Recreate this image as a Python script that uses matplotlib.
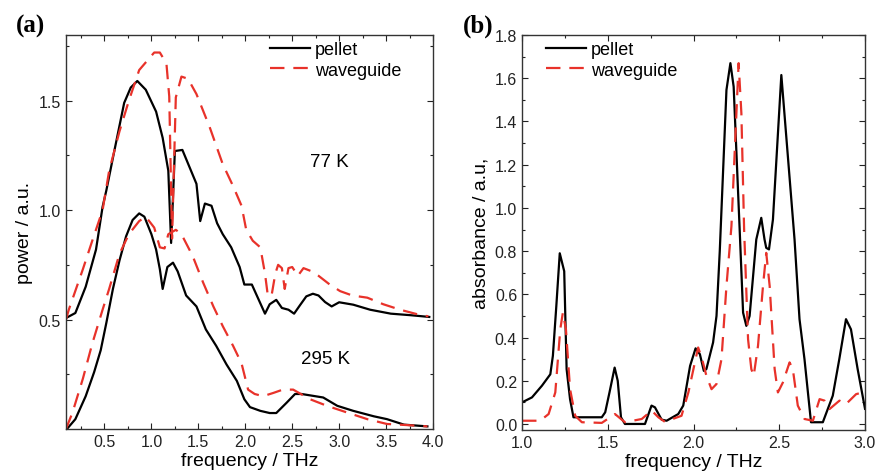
import numpy as np
import matplotlib
matplotlib.use("Agg")
import matplotlib.pyplot as plt
from matplotlib.ticker import MultipleLocator, FixedLocator

plt.rcParams['font.family'] = ['Liberation Sans', 'DejaVu Sans']

# (a) power spectra, 77 K
f77_pellet = [0.09, 0.19, 0.30, 0.41, 0.48, 0.52, 0.60, 0.71, 0.78, 0.85, 0.94, 1.05, 1.12, 1.18,
              1.21, 1.25, 1.33, 1.48, 1.52, 1.57, 1.64, 1.70, 1.76, 1.85, 1.94, 1.99, 2.07, 2.21,
              2.26, 2.33, 2.39, 2.46, 2.52, 2.58, 2.65, 2.72, 2.78, 2.85, 2.92, 3.00, 3.15, 3.33,
              3.55, 3.76, 3.96]
p77_pellet = [0.507, 0.53, 0.65, 0.82, 1.015, 1.09, 1.26, 1.49, 1.56, 1.59, 1.55, 1.45, 1.33, 1.18,
              0.85, 1.27, 1.275, 1.12, 0.95, 1.03, 1.02, 0.94, 0.89, 0.83, 0.74, 0.66, 0.66, 0.527,
              0.57, 0.59, 0.553, 0.545, 0.527, 0.564, 0.606, 0.618, 0.61, 0.58, 0.56, 0.579, 0.568, 0.545,
              0.527, 0.52, 0.512]
f77_wg = [0.09, 0.12, 0.27, 0.37, 0.48, 0.55, 0.66, 0.76, 0.87, 1.03, 1.09, 1.16, 1.19, 1.22,
          1.26, 1.32, 1.39, 1.48, 1.62, 1.76, 1.87, 1.96, 2.01, 2.08, 2.16, 2.21, 2.24, 2.28,
          2.32, 2.35, 2.39, 2.42, 2.46, 2.50, 2.56, 2.62, 2.71, 2.78, 2.90, 3.01, 3.14, 3.30,
          3.47, 3.65, 3.87, 3.95]
p77_wg = [0.50, 0.545, 0.73, 0.86, 1.0, 1.18, 1.36, 1.5, 1.64, 1.72, 1.72, 1.67, 1.52, 0.87,
          1.515, 1.61, 1.60, 1.53, 1.38, 1.21, 1.11, 1.02, 0.91, 0.86, 0.83, 0.71, 0.61, 0.61,
          0.71, 0.75, 0.735, 0.64, 0.735, 0.74, 0.70, 0.735, 0.72, 0.70, 0.66, 0.63, 0.61, 0.60,
          0.57, 0.545, 0.52, 0.515]

# (a) power spectra, 295 K
f295_pellet = [0.10, 0.19, 0.30, 0.39, 0.46, 0.52, 0.59, 0.66, 0.73, 0.80, 0.87, 0.925, 1.0, 1.05,
               1.09, 1.12, 1.17, 1.23, 1.28, 1.37, 1.48, 1.58, 1.69, 1.80, 1.91, 1.99, 2.05, 2.16,
               2.26, 2.33, 2.44, 2.53, 2.60, 2.83, 2.98, 3.15, 3.37, 3.51, 3.69, 3.94]
p295_pellet = [0.0, 0.045, 0.15, 0.26, 0.36, 0.485, 0.64, 0.77, 0.88, 0.955, 0.985, 0.97, 0.89, 0.82,
               0.73, 0.64, 0.74, 0.76, 0.72, 0.61, 0.56, 0.455, 0.38, 0.295, 0.22, 0.136, 0.10, 0.083,
               0.073, 0.073, 0.12, 0.16, 0.16, 0.144, 0.106, 0.083, 0.058, 0.045, 0.02, 0.012]
f295_wg = [0.09, 0.16, 0.27, 0.37, 0.48, 0.55, 0.66, 0.76, 0.87, 0.94, 1.03, 1.09, 1.14, 1.18,
           1.26, 1.32, 1.44, 1.55, 1.66, 1.76, 1.87, 1.96, 2.03, 2.10, 2.19, 2.30, 2.40, 2.51,
           2.69, 2.87, 3.08, 3.30, 3.51, 3.72, 3.94]
p295_wg = [0.0, 0.076, 0.23, 0.39, 0.545, 0.64, 0.80, 0.89, 0.95, 0.97, 0.92, 0.83, 0.825, 0.89,
           0.91, 0.89, 0.79, 0.67, 0.56, 0.47, 0.38, 0.30, 0.18, 0.16, 0.15, 0.165, 0.18, 0.18,
           0.136, 0.106, 0.076, 0.045, 0.023, 0.018, 0.012]

# (b) absorbance
fb_pellet = [1.0, 1.058, 1.116, 1.165, 1.18, 1.20, 1.22, 1.246, 1.26, 1.28, 1.30, 1.465, 1.485, 1.51,
             1.54, 1.558, 1.577, 1.60, 1.717, 1.755, 1.775, 1.814, 1.843, 1.911, 1.94, 1.98, 2.012,
             2.037, 2.06, 2.075, 2.114, 2.134, 2.153, 2.192, 2.215, 2.234, 2.269, 2.289, 2.308,
             2.327, 2.366, 2.395, 2.414, 2.424, 2.44, 2.463, 2.512, 2.589, 2.618, 2.647, 2.685,
             2.754, 2.812, 2.85, 2.889, 2.918, 2.957, 3.0]
ab_pellet = [0.10, 0.123, 0.177, 0.23, 0.316, 0.546, 0.79, 0.707, 0.254, 0.115, 0.031, 0.031, 0.054, 0.146,
             0.261, 0.2, 0.031, 0.0, 0.0, 0.085, 0.077, 0.02, 0.015, 0.046, 0.085, 0.269, 0.35,
             0.323, 0.246, 0.254, 0.377, 0.5, 0.80, 1.546, 1.67, 1.561, 0.9, 0.515, 0.454,
             0.5, 0.854, 0.954, 0.854, 0.815, 0.808, 0.946, 1.615, 0.854, 0.485, 0.3, 0.008,
             0.008, 0.131, 0.3, 0.485, 0.438, 0.254, 0.07]
fb_wg = [1.0, 1.106, 1.155, 1.194, 1.223, 1.238, 1.256, 1.28, 1.31, 1.349, 1.465, 1.542, 1.60, 1.698,
         1.756, 1.795, 1.833, 1.93, 1.97, 2.008, 2.027, 2.05, 2.075, 2.105, 2.134, 2.163, 2.192,
         2.221, 2.25, 2.263, 2.279, 2.295, 2.318, 2.337, 2.351, 2.376, 2.405, 2.424, 2.444, 2.473,
         2.492, 2.521, 2.56, 2.579, 2.608, 2.647, 2.696, 2.735, 2.764, 2.793, 2.851, 2.889, 2.948,
         2.986, 3.0]
ab_wg = [0.015, 0.015, 0.046, 0.146, 0.438, 0.515, 0.438, 0.162, 0.038, 0.008, 0.005, 0.046, 0.008, 0.023,
         0.062, 0.031, 0.01, 0.038, 0.146, 0.285, 0.354, 0.30, 0.223, 0.161, 0.185, 0.3, 0.638,
         0.915, 1.438, 1.67, 1.438, 0.9, 0.392, 0.254, 0.223, 0.362, 0.638, 0.792, 0.638, 0.254,
         0.146, 0.192, 0.285, 0.254, 0.085, 0.023, 0.015, 0.115, 0.108, 0.069, 0.108, 0.092, 0.138,
         0.146, 0.13]

RED = '#e8322a'
dash = (0, (6.5, 4))
fmt = matplotlib.ticker.FormatStrFormatter('%.1f')

fig = plt.figure(figsize=(8.75, 4.77), dpi=100)
ax1 = fig.add_axes([0.0754, 0.0985, 0.4195, 0.826])
ax2 = fig.add_axes([0.5966, 0.0964, 0.392, 0.828])

for ax in (ax1, ax2):
    ax.tick_params(which='both', direction='in', top=True, right=True, labelsize=11.5,
                   colors='#222', length=4, width=0.8)
    ax.tick_params(which='minor', length=2.5)
    for s in ax.spines.values():
        s.set_color('#333')
        s.set_linewidth(1.0)

# panel (a)
ax1.plot(f77_pellet, p77_pellet, color='black', lw=1.6, label='pellet')
ax1.plot(f77_wg, p77_wg, color=RED, lw=1.6, ls=dash, label='waveguide')
ax1.plot(f295_pellet, p295_pellet, color='black', lw=1.6)
ax1.plot(f295_wg, p295_wg, color=RED, lw=1.6, ls=dash)
ax1.set_xlim(0.09, 4.0)
ax1.set_ylim(0, 1.8)
ax1.xaxis.set_major_locator(FixedLocator([0.5, 1.0, 1.5, 2.0, 2.5, 3.0, 3.5, 4.0]))
ax1.xaxis.set_minor_locator(MultipleLocator(0.25))
ax1.yaxis.set_major_locator(FixedLocator([0.5, 1.0, 1.5]))
ax1.yaxis.set_minor_locator(FixedLocator([0.25, 0.75, 1.25, 1.75]))
ax1.xaxis.set_major_formatter(fmt)
ax1.yaxis.set_major_formatter(fmt)
ax1.set_xlabel('frequency / THz', fontsize=14, labelpad=2)
ax1.set_ylabel('power / a.u.', fontsize=14, labelpad=4)
ax1.text(2.9, 1.22, '77 K', fontsize=13.5, ha='center', va='center')
ax1.text(2.85, 0.32, '295 K', fontsize=13.5, ha='center', va='center')
ax1.legend(loc='upper left', bbox_to_anchor=(0.556, 0.985), frameon=False, fontsize=13,
           handlelength=2.2, handletextpad=0.3, labelspacing=0.2, borderpad=0, borderaxespad=0)

# panel (b)
ax2.plot(fb_pellet, ab_pellet, color='black', lw=1.6, label='pellet')
ax2.plot(fb_wg, ab_wg, color=RED, lw=1.6, ls=dash, label='waveguide')
ax2.set_xlim(1.0, 3.0)
ax2.set_ylim(-0.028, 1.8)
ax2.xaxis.set_major_locator(MultipleLocator(0.5))
ax2.xaxis.set_minor_locator(MultipleLocator(0.25))
ax2.yaxis.set_major_locator(MultipleLocator(0.2))
ax2.yaxis.set_minor_locator(MultipleLocator(0.1))
ax2.xaxis.set_major_formatter(fmt)
ax2.yaxis.set_major_formatter(fmt)
ax2.set_xlabel('frequency / THz', fontsize=14, labelpad=2)
ax2.set_ylabel('absorbance / a.u,', fontsize=14, labelpad=4)
ax2.legend(loc='upper left', bbox_to_anchor=(0.07, 0.985), frameon=False, fontsize=13,
           handlelength=2.2, handletextpad=0.3, labelspacing=0.2, borderpad=0, borderaxespad=0)

fig.text(0.018, 0.932, '(a)', fontsize=18, fontweight='bold', family='Liberation Serif')
fig.text(0.529, 0.932, '(b)', fontsize=18, fontweight='bold', family='Liberation Serif')

fig.savefig('out.png', dpi=100)
